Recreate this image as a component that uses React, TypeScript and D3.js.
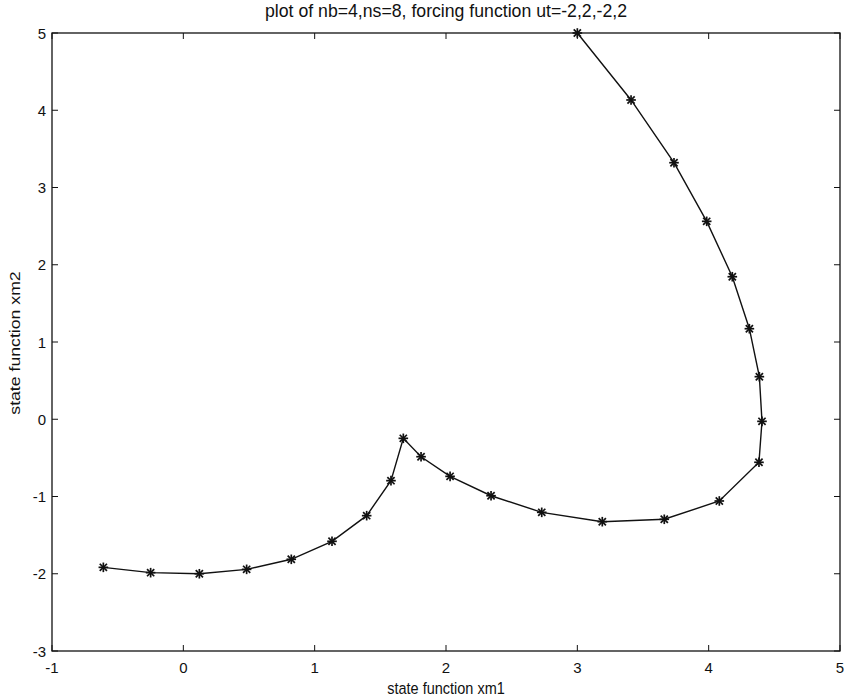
import React from "react";
import * as d3 from "d3";

const xm1 = [-0.609, -0.249, 0.122, 0.482, 0.822, 1.132, 1.396, 1.581, 1.675, 1.81, 2.031, 2.343, 2.729, 3.19, 3.662, 4.081, 4.383, 4.406, 4.386, 4.31, 4.18, 3.985, 3.736, 3.409, 3.0];
const xm2 = [-1.917, -1.986, -2.0, -1.943, -1.813, -1.58, -1.248, -0.795, -0.247, -0.485, -0.739, -0.99, -1.205, -1.326, -1.295, -1.058, -0.557, -0.027, 0.551, 1.172, 1.845, 2.562, 3.321, 4.133, 5.0];
const xTicks = [-1, 0, 1, 2, 3, 4, 5];
const yTicks = [-3, -2, -1, 0, 1, 2, 3, 4, 5];
const titleText = "plot of nb=4,ns=8, forcing function ut=-2,2,-2,2";
const xLabel = "state function xm1";
const yLabel = "state function xm2";

export default function App() {
  const W = 854, H = 700;
  const L = 52, R = 840, T = 33, B = 651;
  const x = d3.scaleLinear().domain([-1, 5]).range([L, R]);
  const y = d3.scaleLinear().domain([-3, 5]).range([B, T]);
  const pts = xm1.map((v, i) => [x(v), y(xm2[i])] as [number, number]);
  const line = d3.line()(pts) || "";
  const tl = 6;
  const m = 4.8;
  const md = 3.6;
  const font = "'Liberation Sans', Arial, Helvetica, sans-serif";
  return (
    <div style={{ position: "absolute", left: 0, top: 0, width: W, height: H, background: "#fff" }}>
      <svg width={W} height={H} style={{ display: "block" }} fontFamily={font}>
        <rect x={0} y={0} width={W} height={H} fill="#fff" />
        <g transform={`translate(${(L + R) / 2}, 17) scale(1, 1.2)`}>
          <text x={0} y={0} textAnchor="middle" fontSize={15} textLength={362} lengthAdjust="spacingAndGlyphs" fill="#111">{titleText}</text>
        </g>
        {xTicks.map((t) => (
          <g key={"x" + t}>
            <line x1={x(t)} x2={x(t)} y1={B} y2={B - tl} stroke="#111" strokeWidth={1} />
            <line x1={x(t)} x2={x(t)} y1={T} y2={T + tl} stroke="#111" strokeWidth={1} />
            <text x={x(t)} y={673} textAnchor="middle" fontSize={15} fill="#111">{t}</text>
          </g>
        ))}
        {yTicks.map((t) => (
          <g key={"y" + t}>
            <line x1={L} x2={L + tl} y1={y(t)} y2={y(t)} stroke="#111" strokeWidth={1} />
            <line x1={R} x2={R - tl} y1={y(t)} y2={y(t)} stroke="#111" strokeWidth={1} />
            <text x={L - 6} y={y(t) + 5.5} textAnchor="end" fontSize={15} fill="#111">{t}</text>
          </g>
        ))}
        <rect x={L} y={T} width={R - L} height={B - T} fill="none" stroke="#111" strokeWidth={1.3} />
        <path d={line} fill="none" stroke="#111" strokeWidth={1.4} />
        {pts.map(([px, py], i) => (
          <g key={"m" + i} stroke="#111" strokeWidth={1.7}>
            <line x1={px - m} x2={px + m} y1={py} y2={py} />
            <line x1={px} x2={px} y1={py - m} y2={py + m} />
            <line x1={px - md} x2={px + md} y1={py - md} y2={py + md} />
            <line x1={px - md} x2={px + md} y1={py + md} y2={py - md} />
          </g>
        ))}
        <g transform={`translate(${(L + R) / 2}, 694) scale(1, 1.2)`}>
          <text x={0} y={0} textAnchor="middle" fontSize={14.5} fill="#111">{xLabel}</text>
        </g>
        <g transform={`translate(20, ${(T + B) / 2 + 1}) rotate(-90) scale(1.22, 1)`}>
          <text x={0} y={0} textAnchor="middle" fontSize={14.5} fill="#111">{yLabel}</text>
        </g>
      </svg>
    </div>
  );
}
